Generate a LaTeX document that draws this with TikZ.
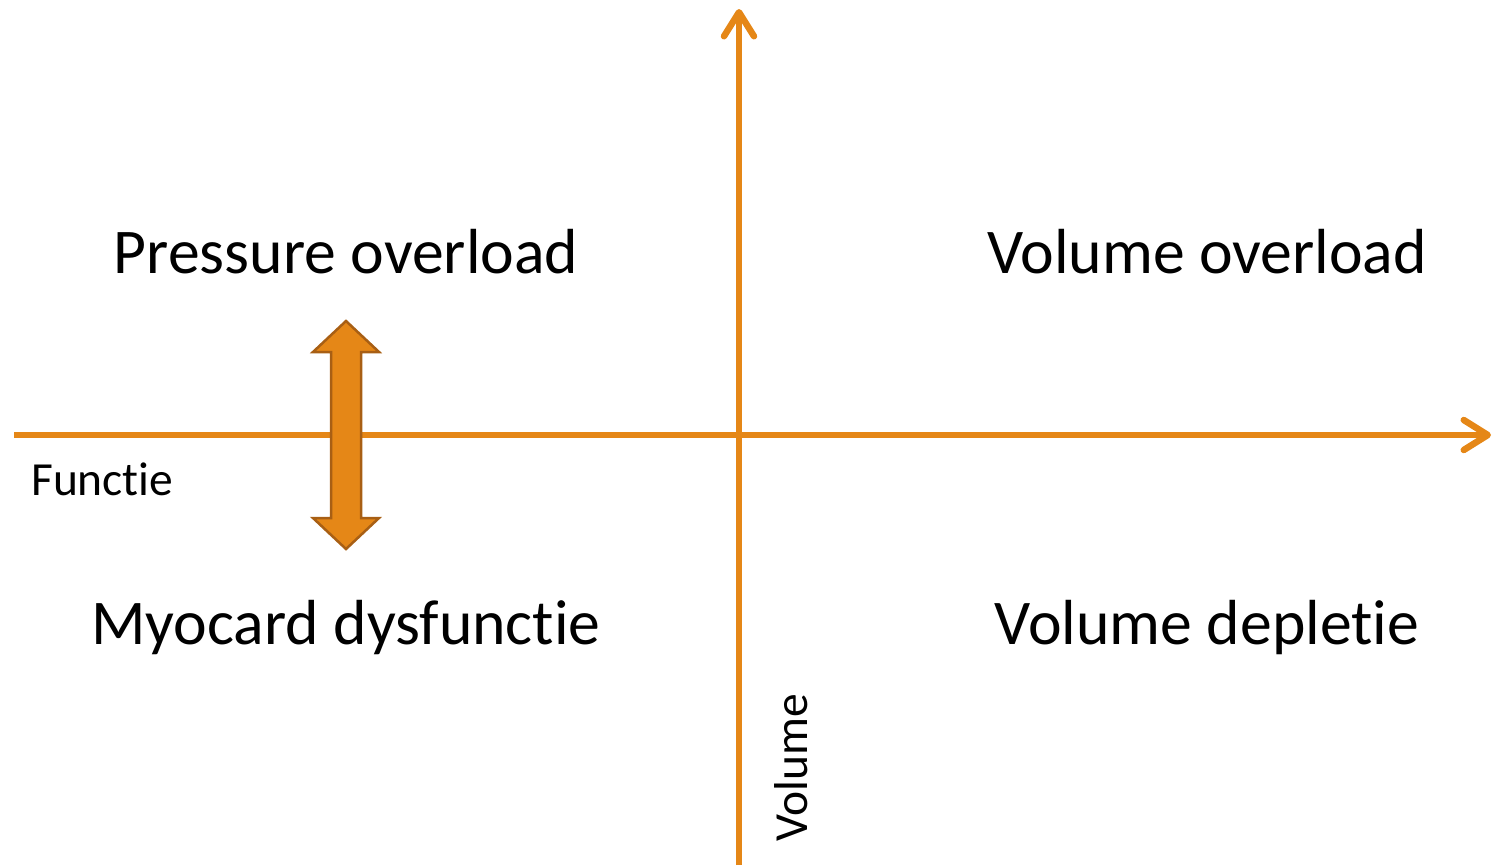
\documentclass[tikz,border=0pt]{standalone}
\usepackage{fontspec}
\setmainfont{Carlito}[Ligatures={NoCommon}]
\usetikzlibrary{arrows.meta}
\definecolor{axisorange}{HTML}{E58717}
\definecolor{arrowfill}{HTML}{E58717}
\definecolor{arrowedge}{HTML}{A85F14}
\tikzset{
  axis/.style={draw=axisorange, line width=6.5pt,
    -{Straight Barb[length=24pt,width=30pt,line cap=round,line join=round]}},
  bigtext/.style={font=\fontsize{63.7}{70}\selectfont, inner sep=0pt, anchor=base},
  smalltext/.style={font=\fontsize{47.5}{52}\selectfont, inner sep=0pt},
  dblarrow/.style={fill=arrowfill, draw=arrowedge, line width=2.5pt, line join=miter}
}
\begin{document}
\begin{tikzpicture}[x=1pt,y=-1pt]
\useasboundingbox (0,0) rectangle (1494,865);
\coordinate (hstart) at (14,435);
\coordinate (hend) at (1491,435);
\coordinate (vstart) at (739,865);
\coordinate (vend) at (739,9);
\draw[axis] (hstart) -- (hend);
\draw[axis] (vstart) -- (vend);
% double arrow
\draw[dblarrow] (346,321) -- (379,352) -- (361,352) -- (361,518) -- (379,518)
  -- (346,549) -- (313,518) -- (331,518) -- (331,352) -- (313,352) -- cycle;
\node[bigtext] (po) at (346,273) {Pressure overload};
\node[bigtext] (vo) at (1207,273) {Volume overload};
\node[bigtext] (md) at (346,644) {Myocard dysfunctie};
\node[bigtext] (vd) at (1207,644) {Volume depletie};
\node[smalltext, anchor=base west] (fu) at (31,495) {Functie};
\node[smalltext, anchor=base, rotate=90] (vol) at (807,768) {Volume};
\end{tikzpicture}
\end{document}
